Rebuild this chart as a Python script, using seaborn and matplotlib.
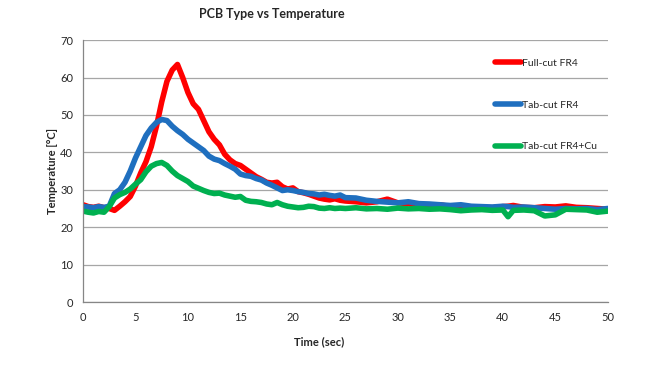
import seaborn as sns
import pandas as pd
import matplotlib.pyplot as plt

# Data
time = [0, 0.5, 1, 1.5, 2, 2.5, 3, 3.5, 4, 4.5, 5, 5.5, 6, 6.5, 7, 7.5, 8, 8.5, 9, 9.5,
        10, 10.5, 11, 11.5, 12, 12.5, 13, 13.5, 14, 14.5, 15, 15.5, 16, 16.5, 17, 17.5,
        18, 18.5, 19, 19.5, 20, 20.5, 21, 21.5, 22, 22.5, 23, 23.5, 24, 24.5, 25,
        26, 27, 28, 29, 30, 31, 32, 33, 34, 35, 36, 37, 38, 39, 40, 40.5, 41, 42, 43,
        44, 45, 46, 47, 48, 49, 50]

full_cut = [26.0, 25.5, 25.3, 25.6, 25.2, 25.0, 24.5, 25.6, 26.8, 28.2, 31.0, 34.5, 37.5,
            41.5, 47.0, 53.5, 59.0, 62.0, 63.5, 60.0, 56.0, 53.0, 51.5, 48.5, 45.5, 43.5,
            42.0, 39.5, 38.0, 37.0, 36.5, 35.5, 34.5, 33.5, 32.8, 32.0, 31.8, 32.0, 30.8,
            30.2, 30.5, 29.5, 29.2, 28.8, 28.3, 27.8, 27.5, 27.3, 27.6, 27.2, 27.0,
            26.8, 26.5, 26.8, 27.5, 26.5, 26.3, 26.0, 25.8, 26.0, 25.5, 25.6, 25.4, 25.3,
            25.2, 25.5, 25.6, 25.8, 25.3, 25.2, 25.5, 25.4, 25.7, 25.3, 25.2, 25.0, 24.8]

tab_cut = [25.5, 25.4, 25.2, 25.5, 25.3, 25.6, 29.0, 30.0, 32.0, 35.0, 38.5, 41.5, 44.5,
           46.5, 48.0, 48.8, 48.5, 47.0, 45.8, 44.8, 43.5, 42.5, 41.5, 40.5, 39.0, 38.2,
           37.8, 37.0, 36.3, 35.5, 34.2, 33.8, 33.6, 33.0, 32.6, 31.8, 31.2, 30.5, 29.8,
           30.0, 29.8, 29.5, 29.3, 29.0, 28.9, 28.6, 28.8, 28.5, 28.3, 28.6, 27.9,
           27.8, 27.2, 26.9, 26.7, 26.5, 26.8, 26.3, 26.2, 26.0, 25.8, 26.0, 25.6, 25.5,
           25.4, 25.6, 25.5, 25.3, 25.4, 25.2, 25.0, 24.8, 25.0, 24.9, 25.0, 24.7, 25.0]

tab_cut_cu = [24.3, 24.0, 23.8, 24.2, 24.0, 25.5, 27.8, 28.7, 29.3, 30.2, 31.5, 32.7, 34.8,
              36.3, 37.0, 37.3, 36.5, 35.0, 33.8, 33.0, 32.2, 31.0, 30.4, 29.8, 29.3, 29.0,
              29.1, 28.6, 28.3, 28.0, 28.2, 27.2, 26.9, 26.8, 26.6, 26.2, 26.0, 26.6, 26.0,
              25.6, 25.4, 25.2, 25.3, 25.6, 25.5, 25.1, 25.0, 25.2, 25.0, 25.1, 25.0,
              25.2, 24.9, 25.0, 24.8, 25.1, 24.9, 25.0, 24.8, 24.9, 24.7, 24.4, 24.6, 24.7,
              24.5, 24.6, 22.8, 24.5, 24.6, 24.4, 23.0, 23.3, 24.8, 24.7, 24.6, 24.0, 24.3]

labels = ["Full-cut FR4", "Tab-cut FR4", "Tab-cut FR4+Cu"]
colors = ["#ff0000", "#1f6fbf", "#00b050"]

df = pd.concat([
    pd.DataFrame({"Time": time, "Temp": vals, "PCB": lab})
    for vals, lab in zip([full_cut, tab_cut, tab_cut_cu], labels)
])

sns.set_style("white")
plt.rcParams['font.family'] = ['Lato', 'DejaVu Sans']

fig = plt.figure(figsize=(6.5, 3.65), dpi=100)
ax = fig.add_axes([0.1277, 0.1726, 0.8073, 0.7174])

sns.lineplot(data=df, x="Time", y="Temp", hue="PCB", palette=dict(zip(labels, colors)),
             estimator=None, sort=False, linewidth=4, ax=ax)

ax.set_xlim(0, 50)
ax.set_ylim(0, 70)
ax.set_xticks(range(0, 51, 5))
ax.set_yticks(range(0, 71, 10))
ax.grid(axis="y", color="#a6a6a6", linewidth=0.9)
ax.set_axisbelow(True)
for s in ["top", "right"]:
    ax.spines[s].set_visible(False)
for s in ["left", "bottom"]:
    ax.spines[s].set_color("#868686")
    ax.spines[s].set_linewidth(0.9)
ax.tick_params(length=0, labelsize=8, colors="#262626", pad=7)

ax.set_xlabel("Time (sec)", fontsize=8, fontweight="bold")
ax.set_ylabel("Temperature [°C]", fontsize=8, fontweight="bold")
ax.xaxis.set_label_coords(0.45, -0.13)
ax.yaxis.set_label_coords(-0.048, 0.5)

fig.text(272 / 650, 1 - 14 / 365, "PCB Type vs Temperature", fontsize=9,
         fontweight="bold", ha="center", va="center")

leg = ax.legend(loc="upper left", bbox_to_anchor=(0.767, 0.965), frameon=False,
                fontsize=7.5, labelspacing=3.1, handlelength=2.5, handletextpad=0.1)
for line in leg.get_lines():
    line.set_linewidth(4)

fig.savefig("out.png", dpi=100)
